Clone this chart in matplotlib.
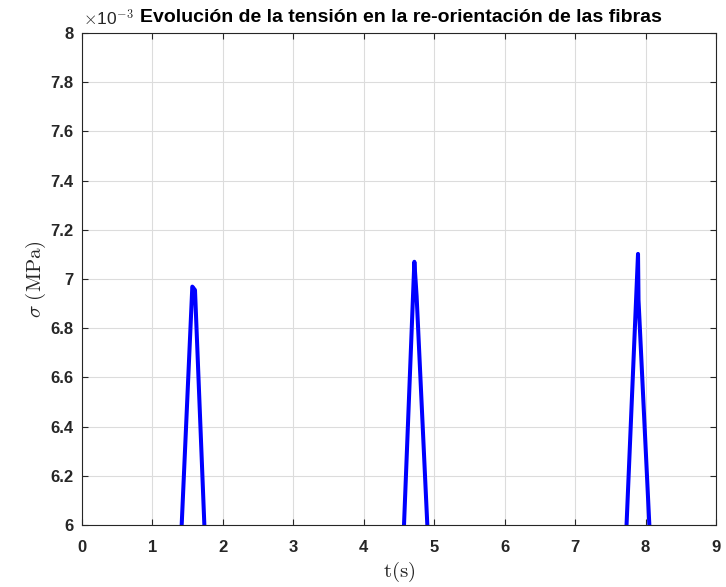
import matplotlib
matplotlib.use("Agg")
import matplotlib.pyplot as plt
from matplotlib.ticker import FuncFormatter, MultipleLocator

# Data (sigma in MPa, scaled values x1e-3)
t_s = [0.0, 1.30, 1.566, 1.604, 1.85, 4.45, 4.718, 4.75, 5.00, 7.60, 7.893, 7.90, 8.20, 9.0]
sigma_e3 = [5.20, 5.262, 6.969, 6.955, 5.188, 5.119, 7.070, 6.930, 5.40, 5.12, 7.102, 6.915, 5.13, 5.20]
sigma = [v * 1e-3 for v in sigma_e3]

title = "Evolución de la tensión en la re-orientación de las fibras"

plt.rcParams['mathtext.fontset'] = 'cm'
fig = plt.figure(figsize=(7.26, 5.87), dpi=100)
ax = fig.add_axes([82/726, 62/587, (716-82)/726, (525-33)/587])

ax.plot(t_s, sigma, color=(0, 0, 1), linewidth=2.9, solid_joinstyle='round')

ax.set_xlim(0, 9)
ax.set_ylim(6e-3, 8e-3)
ax.xaxis.set_major_locator(MultipleLocator(1))
ax.yaxis.set_major_locator(MultipleLocator(0.2e-3))

def yfmt(v, pos):
    s = f"{v*1e3:.1f}"
    if s.endswith(".0"):
        s = s[:-2]
    return s

ax.yaxis.set_major_formatter(FuncFormatter(yfmt))
ax.grid(True, color='#dcdcdc', linewidth=0.8)
ax.set_axisbelow(True)
ax.tick_params(direction='in', top=True, right=True, length=4, width=0.8,
               colors='#262626', labelsize=12)
ax.tick_params(axis='x', pad=11)
ax.tick_params(axis='y', pad=6)
for lab in ax.get_xticklabels() + ax.get_yticklabels():
    lab.set_fontweight('bold')
    lab.set_family('Liberation Sans')
for sp in ax.spines.values():
    sp.set_color('#262626')
    sp.set_linewidth(0.8)

ax.set_xlabel(r'$\mathrm{t(s)}$', fontsize=15, color='#262626', labelpad=3)
ax.set_ylabel(r'$\sigma\ \mathrm{(MPa)}$', fontsize=15, color='#262626', labelpad=2)

fig.text(83/726, 1 - 18/587, r'$\times$10$^{\mathsf{-3}}$', fontsize=12.5, color='#262626',
         family='Liberation Sans', va='center', ha='left')
fig.text(140/726, 1 - 17/587, title, fontsize=14, fontweight='bold', color='#000000',
         family='Liberation Sans', va='center', ha='left')

fig.savefig('out.png', dpi=100)
